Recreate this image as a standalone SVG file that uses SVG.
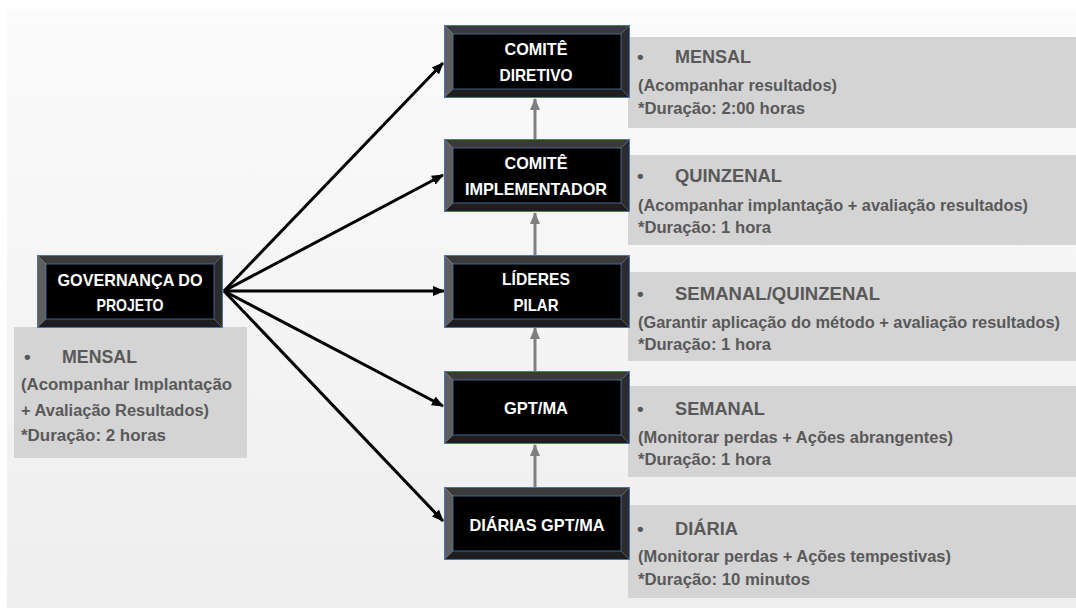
<svg xmlns="http://www.w3.org/2000/svg" width="1076" height="608" viewBox="0 0 1076 608">
  <defs>
    <linearGradient id="bg" x1="0" y1="0" x2="0" y2="1">
      <stop offset="0" stop-color="#fbfbfb"/>
      <stop offset="1" stop-color="#eeeeee"/>
    </linearGradient>
    <marker id="arrowBlack" viewBox="0 0 12 10" refX="11" refY="5" markerWidth="12" markerHeight="10" markerUnits="userSpaceOnUse" orient="auto">
      <path d="M0,0 L12,5 L0,10 Z" fill="#000"/>
    </marker>
    <marker id="arrowGray" viewBox="0 0 12 10" refX="11" refY="5" markerWidth="12" markerHeight="10" markerUnits="userSpaceOnUse" orient="auto">
      <path d="M0,0 L12,5 L0,10 Z" fill="#808080"/>
    </marker>
    <!-- bevelled black box used for every node -->
    <g id="bevel">
      <polygon points="0,0 186,0 177,9 9,9" fill="#3a3a3a"/>
      <polygon points="0,0 9,9 9,64 0,73" fill="#5e5e5e"/>
      <polygon points="186,0 186,73 177,64 177,9" fill="#2c2c2c"/>
      <polygon points="0,73 9,64 177,64 186,73" fill="#1e1e1e"/>
      <rect x="9" y="9" width="168" height="55" fill="#000" stroke="#4a74ad" stroke-width="0.8"/>
      <rect x="0.5" y="0.5" width="185" height="72" fill="none" stroke="#4a74ad" stroke-width="1"/>
    </g>
  </defs>
  <style>
    .nodeText { font-family: "Liberation Sans", Arial, sans-serif; font-weight: bold; font-size: 17px; fill: #ffffff; text-anchor: middle; }
    .panel { fill: #d4d4d4; }
    .head { font-family: "Liberation Sans", Arial, sans-serif; font-weight: bold; font-size: 19px; fill: #595959; }
    .body { font-family: "Liberation Sans", Arial, sans-serif; font-weight: bold; font-size: 16px; fill: #595959; }
    .link { stroke: #000; stroke-width: 3; fill: none; marker-end: url(#arrowBlack); }
    .up { stroke: #808080; stroke-width: 3; fill: none; marker-end: url(#arrowGray); }
  </style>

  <!-- slide background -->
  <rect x="0" y="0" width="1076" height="608" fill="#ffffff"/>
  <rect x="7" y="9" width="1069" height="599" fill="url(#bg)"/>

  <!-- information panels -->
  <g id="panel-governanca">
    <rect class="panel" x="14" y="327" width="233" height="131"/>
    <text class="head" x="24" y="363">•</text>
    <text class="head" x="62" y="363" textLength="75" lengthAdjust="spacingAndGlyphs">MENSAL</text>
    <text class="body" x="21" y="390" textLength="211" lengthAdjust="spacingAndGlyphs">(Acompanhar Implantação</text>
    <text class="body" x="21" y="416" textLength="188" lengthAdjust="spacingAndGlyphs">+ Avaliação Resultados)</text>
    <text class="body" x="21" y="441" textLength="145" lengthAdjust="spacingAndGlyphs">*Duração: 2 horas</text>
  </g>
  <g id="panel-diretivo">
    <rect class="panel" x="628" y="37" width="448" height="91"/>
    <text class="head" x="637" y="63">•</text>
    <text class="head" x="675" y="63" textLength="76" lengthAdjust="spacingAndGlyphs">MENSAL</text>
    <text class="body" x="638" y="91" textLength="199" lengthAdjust="spacingAndGlyphs">(Acompanhar resultados)</text>
    <text class="body" x="638" y="114" textLength="167" lengthAdjust="spacingAndGlyphs">*Duração: 2:00 horas</text>
  </g>
  <g id="panel-implementador">
    <rect class="panel" x="628" y="155" width="448" height="90"/>
    <text class="head" x="637" y="182">•</text>
    <text class="head" x="675" y="182" textLength="107" lengthAdjust="spacingAndGlyphs">QUINZENAL</text>
    <text class="body" x="638" y="211" textLength="390" lengthAdjust="spacingAndGlyphs">(Acompanhar implantação + avaliação resultados)</text>
    <text class="body" x="638" y="233" textLength="133" lengthAdjust="spacingAndGlyphs">*Duração: 1 hora</text>
  </g>
  <g id="panel-lideres">
    <rect class="panel" x="628" y="272" width="448" height="89"/>
    <text class="head" x="637" y="300">•</text>
    <text class="head" x="675" y="300" textLength="205" lengthAdjust="spacingAndGlyphs">SEMANAL/QUINZENAL</text>
    <text class="body" x="638" y="328" textLength="422" lengthAdjust="spacingAndGlyphs">(Garantir aplicação do método + avaliação resultados)</text>
    <text class="body" x="638" y="350" textLength="133" lengthAdjust="spacingAndGlyphs">*Duração: 1 hora</text>
  </g>
  <g id="panel-gpt">
    <rect class="panel" x="628" y="386" width="448" height="91"/>
    <text class="head" x="637" y="415">•</text>
    <text class="head" x="675" y="415" textLength="90" lengthAdjust="spacingAndGlyphs">SEMANAL</text>
    <text class="body" x="638" y="443" textLength="315" lengthAdjust="spacingAndGlyphs">(Monitorar perdas + Ações abrangentes)</text>
    <text class="body" x="638" y="465" textLength="133" lengthAdjust="spacingAndGlyphs">*Duração: 1 hora</text>
  </g>
  <g id="panel-diarias">
    <rect class="panel" x="628" y="505" width="448" height="93"/>
    <text class="head" x="637" y="535">•</text>
    <text class="head" x="675" y="535" textLength="63" lengthAdjust="spacingAndGlyphs">DIÁRIA</text>
    <text class="body" x="638" y="562" textLength="313" lengthAdjust="spacingAndGlyphs">(Monitorar perdas + Ações tempestivas)</text>
    <text class="body" x="638" y="585" textLength="172" lengthAdjust="spacingAndGlyphs">*Duração: 10 minutos</text>
  </g>

  <!-- connectors -->
  <g id="connectors">
    <line class="link" x1="224" y1="291" x2="443" y2="63"/>
    <line class="link" x1="224" y1="291" x2="443" y2="175"/>
    <line class="link" x1="224" y1="291" x2="444" y2="291"/>
    <line class="link" x1="224" y1="291" x2="443" y2="406"/>
    <line class="link" x1="224" y1="291" x2="443" y2="521"/>
    <line class="up" x1="535" y1="139" x2="535" y2="99"/>
    <line class="up" x1="535" y1="255" x2="535" y2="213"/>
    <line class="up" x1="535" y1="371" x2="535" y2="328"/>
    <line class="up" x1="535" y1="487" x2="535" y2="445"/>
  </g>

  <!-- nodes -->
  <g id="node-governanca">
    <use href="#bevel" x="37" y="255"/>
    <text class="nodeText" x="130" y="286" textLength="145" lengthAdjust="spacingAndGlyphs">GOVERNANÇA DO</text>
    <text class="nodeText" x="130" y="311" textLength="67" lengthAdjust="spacingAndGlyphs">PROJETO</text>
  </g>
  <g id="node-comite-diretivo">
    <use href="#bevel" x="444" y="25"/>
    <text class="nodeText" x="536" y="55" textLength="63" lengthAdjust="spacingAndGlyphs">COMITÊ</text>
    <text class="nodeText" x="536" y="81" textLength="73" lengthAdjust="spacingAndGlyphs">DIRETIVO</text>
  </g>
  <g id="node-comite-implementador">
    <use href="#bevel" x="444" y="139"/>
    <text class="nodeText" x="536" y="169" textLength="63" lengthAdjust="spacingAndGlyphs">COMITÊ</text>
    <text class="nodeText" x="536" y="195" textLength="142" lengthAdjust="spacingAndGlyphs">IMPLEMENTADOR</text>
  </g>
  <g id="node-lideres">
    <use href="#bevel" x="444" y="255"/>
    <text class="nodeText" x="536" y="285" textLength="68" lengthAdjust="spacingAndGlyphs">LÍDERES</text>
    <text class="nodeText" x="536" y="311" textLength="45" lengthAdjust="spacingAndGlyphs">PILAR</text>
  </g>
  <g id="node-gpt">
    <use href="#bevel" x="444" y="371"/>
    <text class="nodeText" x="536" y="414" textLength="64" lengthAdjust="spacingAndGlyphs">GPT/MA</text>
  </g>
  <g id="node-diarias">
    <use href="#bevel" x="444" y="487"/>
    <text class="nodeText" x="537" y="531" textLength="135" lengthAdjust="spacingAndGlyphs">DIÁRIAS GPT/MA</text>
  </g>
</svg>
